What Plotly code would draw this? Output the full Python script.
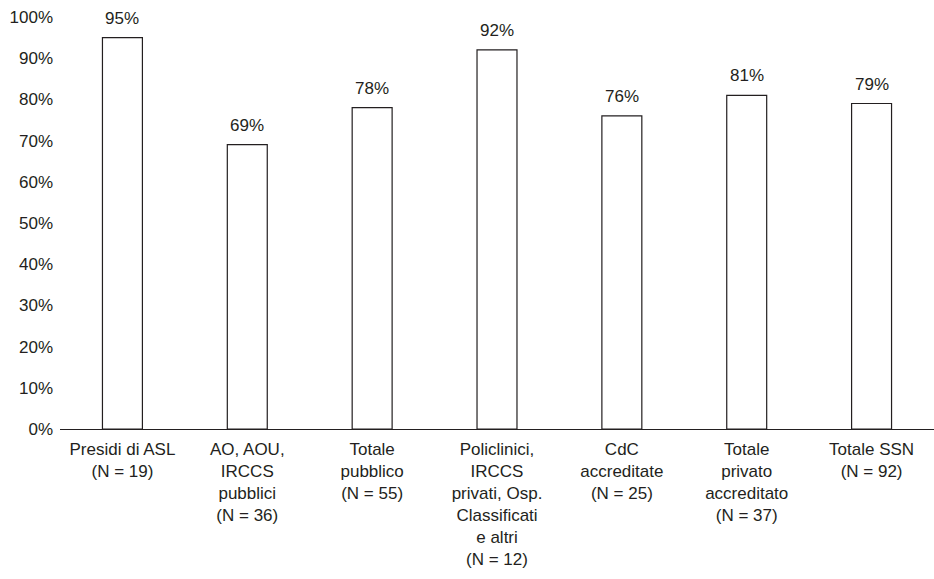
import plotly.graph_objects as go

categories = [
    "Presidi di ASL<br>(N = 19)",
    "AO, AOU,<br>IRCCS<br>pubblici<br>(N = 36)",
    "Totale<br>pubblico<br>(N = 55)",
    "Policlinici,<br>IRCCS<br>privati, Osp.<br>Classificati<br>e altri<br>(N = 12)",
    "CdC<br>accreditate<br>(N = 25)",
    "Totale<br>privato<br>accreditato<br>(N = 37)",
    "Totale SSN<br>(N = 92)",
]
values = [95, 69, 78, 92, 76, 81, 79]
y_ticks = list(range(0, 101, 10))
y_tick_labels = [f"{v}%" for v in y_ticks]

font_family = "Liberation Sans Narrow, Arial Narrow, Liberation Sans, Arial, sans-serif"
ink = "#231f20"
size = 17

x_pos = list(range(len(categories)))

fig = go.Figure(
    go.Bar(
        x=x_pos,
        y=values,
        marker=dict(color="white", line=dict(color=ink, width=1.2)),
        cliponaxis=False,
    )
)

# value labels sitting a little above each bar
for xi, v in zip(x_pos, values):
    fig.add_annotation(
        x=xi, y=v, text=f"{v}%", showarrow=False,
        yanchor="bottom", yshift=8,
        font=dict(size=size, color=ink, family=font_family),
    )

fig.update_layout(
    width=934,
    height=579,
    margin=dict(l=60, r=0, t=17, b=150),
    paper_bgcolor="white",
    plot_bgcolor="white",
    bargap=0.68,
    showlegend=False,
    font=dict(family=font_family, size=size, color=ink),
)

fig.update_xaxes(
    tickmode="array",
    tickvals=x_pos,
    ticktext=categories,
    range=[-0.5, 6.5],
    showline=True,
    linecolor=ink,
    linewidth=1.2,
    showgrid=False,
    ticks="",
    tickfont=dict(size=size, color=ink),
    tickangle=0,
    ticklabelstandoff=4,
)

fig.update_yaxes(
    range=[0, 100],
    tickmode="array",
    tickvals=y_ticks,
    ticktext=y_tick_labels,
    showgrid=False,
    zeroline=False,
    showline=False,
    ticks="",
    tickfont=dict(size=size, color=ink),
    ticklabelstandoff=6,
)

fig.write_html("out.html")
